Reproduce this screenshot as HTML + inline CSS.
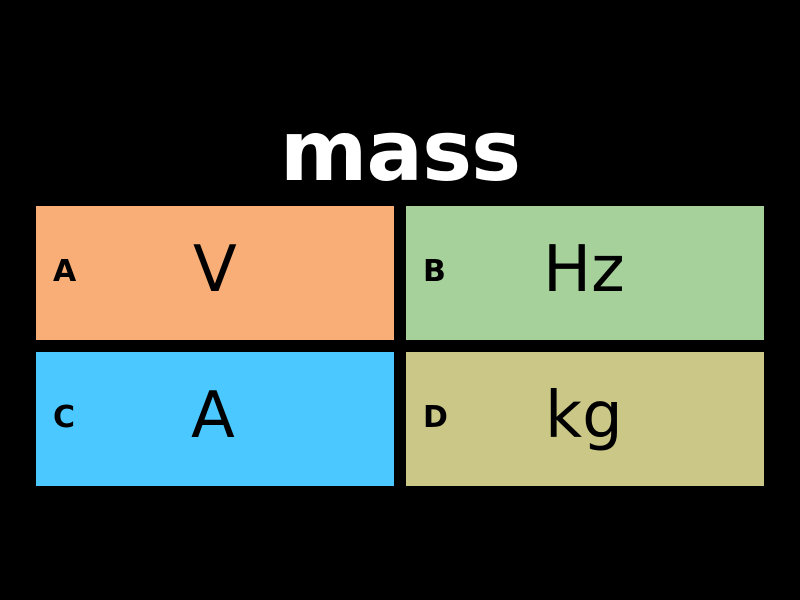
<!DOCTYPE html>
<html><head><style>
body{margin:0;width:800px;height:600px;background:#000;position:relative;overflow:hidden;font-family:"DejaVu Sans","Liberation Sans",sans-serif}
.t{position:absolute;left:0;width:800px;top:96px;text-align:center;color:#fff;font-size:84px;font-weight:bold;line-height:110px;letter-spacing:-1px}
.b{position:absolute;width:358px;height:134px}
.l{position:absolute;left:17px;top:46px;font-size:30px;font-weight:bold;line-height:40px}
.v{position:absolute;left:0;width:358px;top:26px;font-size:64px;line-height:76px;text-align:left;box-sizing:border-box}
</style></head><body>
<div class="t">mass</div>
<div class="b" style="left:36px;top:206px;background:#f8ae76"><span class="l">A</span><span class="v" style="padding-left:157px">V</span></div>
<div class="b" style="left:406px;top:206px;background:#a6d19b"><span class="l">B</span><span class="v" style="padding-left:137px">Hz</span></div>
<div class="b" style="left:36px;top:352px;background:#4ac8ff"><span class="l">C</span><span class="v" style="padding-left:155px">A</span></div>
<div class="b" style="left:406px;top:352px;background:#cbc887"><span class="l">D</span><span class="v" style="padding-left:139px">kg</span></div>
</body></html>
